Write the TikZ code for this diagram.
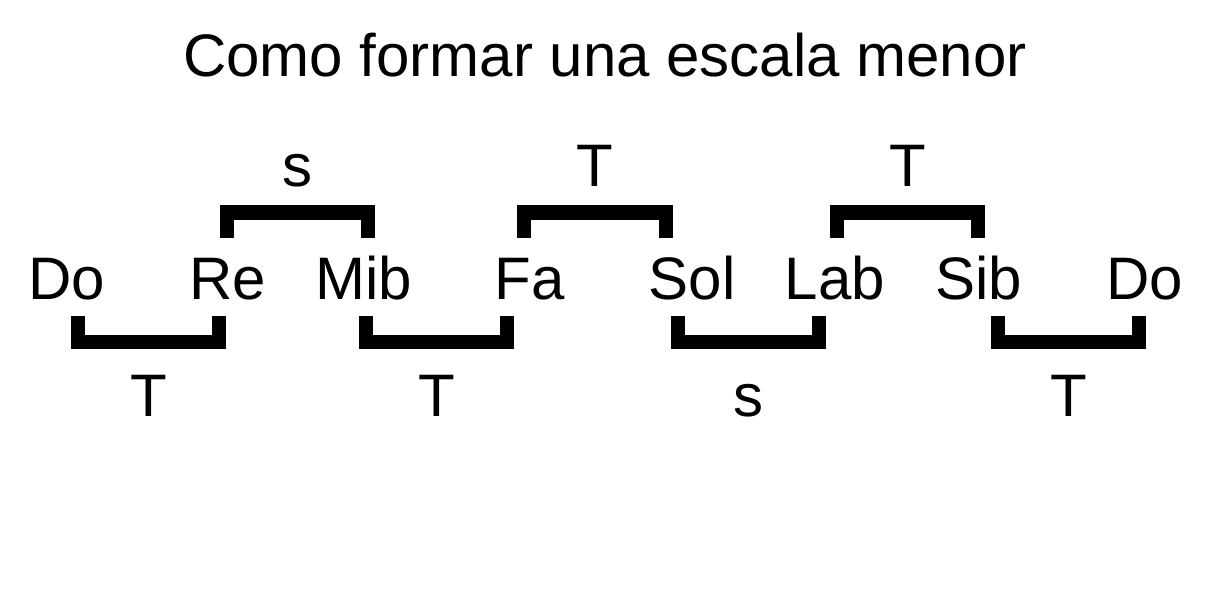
\documentclass[tikz,border=0pt]{standalone}
\usepackage{fontspec}
\setmainfont{Liberation Sans}
\usetikzlibrary{positioning}

\tikzset{
  txt/.style={inner sep=0pt,anchor=base,font=\fontsize{60}{72}\selectfont},
  bracketline/.style={line width=14pt,line join=miter}
}

\begin{document}
\begin{tikzpicture}[x=1pt,y=-1pt]
\useasboundingbox (0,0) rectangle (1212,596);
% title
\node[txt] (title) at (605,77) {Como formar una escala menor};
% notes of the scale
\foreach \xx/\nm/\note in {67/do/Do,228/re/Re,364/mib/Mib,530/fa/Fa,692/sol/Sol,835/lab/Lab,979/sib/Sib,1145/doo/Do}
  \node[txt] (\nm) at (\xx,299) {\note};
% steps below the notes
\foreach \xa/\xb/\lab/\nm in {78/219/T/lowa,366/507/T/lowb,678/819/s/lowc,998/1139/T/lowd} {
  \draw[bracketline] (\xa,316) -- (\xa,342) -- (\xb,342) -- (\xb,316);
  \node[txt] (\nm) at ({(\xa+\xb)/2},416) {\lab};
}
% steps above the notes
\foreach \xa/\xb/\lab/\nm in {227/368/s/upa,524/666/T/upb,837/978/T/upc} {
  \draw[bracketline] (\xa,238) -- (\xa,212.5) -- (\xb,212.5) -- (\xb,238);
  \node[txt] (\nm) at ({(\xa+\xb)/2},186) {\lab};
}
\end{tikzpicture}
\end{document}
